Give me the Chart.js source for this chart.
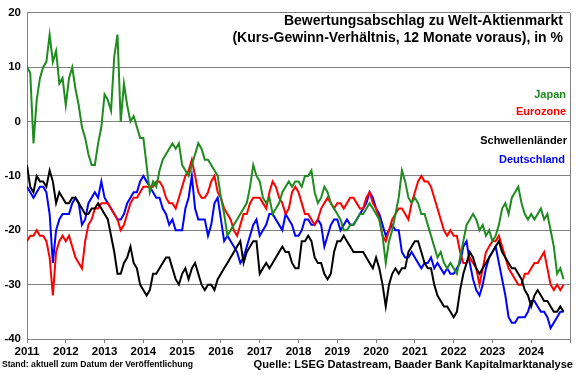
<!DOCTYPE html>
<html lang="de">
<head>
<meta charset="utf-8">
<title>Bewertungsabschlag zu Welt-Aktienmarkt</title>
<script src="https://cdn.jsdelivr.net/npm/chart.js@4.4.1/dist/chart.umd.min.js"></script>
<style>
    html, body { margin: 0; padding: 0; background: #ffffff; }
    #wrap { position: relative; width: 580px; height: 375px; }
</style>
</head>
<body>
<div id="wrap"><canvas id="kgvChart"></canvas></div>
<script>
// ==========================================
// DATA (monthly, Jan 2011 - Nov 2024)
// ==========================================

const START_YEAR = 2011;
const yearTicks = [2011, 2012, 2013, 2014, 2015, 2016, 2017, 2018, 2019, 2020, 2021, 2022, 2023, 2024];

const japan = [
    10, 9, -4, 4, 8, 10, 11, 16, 11, 13, 7, 8,
    3, 8, 10, 6, 3, -1, -3, -6, -8, -8, -4, -1,
    5, 4, 2, 12, 16, 0, 7, 3, 0, 1, -1, -3,
    -3, -8, -13, -11, -12, -9, -7, -6, -5, -4, -5, -4,
    -8, -9, -10, -8, -6, -4, -5, -7, -7, -8, -9, -10,
    -14, -17, -21, -20, -19, -18, -17, -16, -15, -12, -8, -10,
    -11, -14, -15, -14, -17, -16, -15, -13, -12, -11, -12, -11,
    -11, -12, -10, -10, -9, -13, -15, -14, -12, -13, -15, -16,
    -17, -18, -20, -20, -19, -19, -18, -17, -17, -16, -15, -16,
    -17, -18, -21, -26, -22, -20, -17, -14, -9, -11, -14, -15,
    -14, -15, -17, -17, -19, -21, -23, -25, -24, -26, -27, -26,
    -27, -28, -25, -22, -19, -18, -17, -18, -20, -19, -21, -20,
    -22, -21, -19, -16, -15, -17, -14, -13, -12, -15, -17, -18,
    -17, -18, -17, -16, -18, -17, -20, -23, -28, -27, -29
];

const eurozone = [
    -22, -21, -21, -20, -21, -21, -22, -25, -32, -24, -22, -21,
    -22, -21, -23, -25, -26, -27, -22, -19, -18, -16, -16, -15,
    -15, -15, -16, -17, -18, -20, -19, -17, -15, -14, -14, -13,
    -12, -12, -12, -12, -11, -11, -12, -14, -15, -15, -16, -14,
    -12, -10, -9, -7, -10, -13, -14, -14, -13, -11, -10, -13,
    -14, -16, -17, -18, -20, -21, -19, -17, -17, -15, -14, -14,
    -14, -15, -16, -13, -11, -12, -14, -15, -17, -16, -13, -12,
    -13, -15, -17, -17, -18, -19, -18, -16, -15, -14, -15, -16,
    -15, -15, -16, -15, -14, -14, -15, -16, -16, -14, -13, -15,
    -16, -18, -21, -22, -20, -18, -17, -16, -16, -17, -18, -15,
    -13, -11, -10, -11, -11, -12, -14, -16, -18, -20, -21, -20,
    -21, -21, -24, -26, -26, -25, -26, -27, -30, -27, -24, -23,
    -22, -22, -21, -23, -25, -27, -28, -29, -30, -30, -28, -28,
    -27, -26, -26, -25, -24, -27, -30, -31, -30, -31, -30
];

const schwellenlaender = [
    -8, -12, -13, -10, -11, -11, -12, -9, -11, -15, -13, -14,
    -15, -15, -14, -14, -15, -16, -17, -17, -16, -16, -15, -16,
    -17, -18, -21, -24, -28, -28, -26, -25, -23, -26, -27, -30,
    -31, -32, -31, -28, -28, -27, -26, -25, -25, -27, -29, -30,
    -28, -27, -29, -27, -26, -28, -30, -31, -30, -30, -31, -29,
    -28, -27, -26, -25, -24, -23, -22, -26, -24, -23, -22, -22,
    -28, -27, -26, -27, -26, -25, -24, -23, -24, -24, -26, -27,
    -27, -22, -22, -21, -22, -25, -26, -26, -28, -29, -28, -24,
    -22, -22, -21, -22, -23, -24, -24, -24, -24, -25, -26, -27,
    -25, -27, -30, -34, -30, -28, -27, -28, -27, -27, -24, -23,
    -22, -22, -24, -26, -27, -27, -30, -32, -33, -34, -34, -35,
    -36, -35, -31, -28, -26, -24, -25, -27, -28, -27, -26, -25,
    -24, -23, -22, -24, -25, -26, -27, -27, -28, -29, -31, -32,
    -34, -32, -31, -32, -33, -33, -34, -35, -35, -34, -35
];

const deutschland = [
    -12, -13, -14, -13, -12, -12, -13, -17, -26, -20, -18, -17,
    -17, -17, -15, -14, -15, -19, -18, -15, -14, -13, -14, -11,
    -14, -15, -16, -17, -18, -18, -17, -15, -14, -13, -13, -11,
    -10, -11, -12, -13, -14, -14, -16, -17, -19, -18, -20, -20,
    -20, -16, -14, -10, -16, -18, -18, -18, -21, -19, -15, -14,
    -18, -22, -21, -22, -23, -24, -26, -25, -23, -21, -19, -18,
    -21, -20, -19, -17, -17, -18, -19, -20, -17, -18, -19, -21,
    -21, -20, -18, -18, -19, -19, -18, -19, -23, -21, -19, -18,
    -18, -20, -19, -18, -19, -19, -18, -17, -16, -15, -13, -14,
    -16, -17, -19, -21, -20, -19, -20, -20, -24, -25, -25, -24,
    -25, -26, -27, -26, -26, -25, -27, -26, -27, -28, -27, -28,
    -28, -27, -26, -23, -22, -26, -29, -31, -32, -30, -27, -25,
    -24, -23, -26, -29, -32, -36, -37, -37, -36, -36, -36, -35,
    -33, -33, -34, -35, -35, -36, -38, -37, -36, -35, -35
];

// ==========================================
// HELPERS
// ==========================================

const FONT = 'Liberation Sans, Arial, sans-serif';

const toPoints = (arr) => arr.map((v, i) => ({ x: START_YEAR + i / 12, y: v }));

// Titles, series labels and footer notes drawn on top of the chart
const annotations = {
    id: 'annotations',
    afterDraw(chart) {
        const { ctx, chartArea: a } = chart;
        ctx.save();

        // right frame line
        ctx.strokeStyle = '#808080';
        ctx.lineWidth = 1;
        ctx.beginPath();
        ctx.moveTo(a.right + 0.5, a.top);
        ctx.lineTo(a.right + 0.5, a.bottom);
        ctx.stroke();

        ctx.textBaseline = 'alphabetic';

        // title
        ctx.textAlign = 'right';
        ctx.fillStyle = '#000000';
        ctx.font = `bold 14px ${FONT}`;
        ctx.fillText('Bewertungsabschlag zu Welt-Aktienmarkt', 563, 25);
        ctx.fillText('(Kurs-Gewinn-Verhältnis, 12 Monate voraus), in %', 563, 42);

        // series labels
        ctx.font = `bold 11px ${FONT}`;
        ctx.fillStyle = '#1e8c1e';
        ctx.fillText('Japan', 566, 98);
        ctx.fillStyle = '#ff0000';
        ctx.fillText('Eurozone', 566, 115);
        ctx.fillStyle = '#000000';
        ctx.fillText('Schwellenländer', 567, 144);
        ctx.fillStyle = '#0000ff';
        ctx.fillText('Deutschland', 565, 163);

        // footer
        ctx.fillStyle = '#000000';
        ctx.font = `bold 8.6px ${FONT}`;
        ctx.textAlign = 'left';
        ctx.fillText('Stand: aktuell zum Datum der Veröffentlichung', 2, 367);
        ctx.font = `bold 11.1px ${FONT}`;
        ctx.textAlign = 'right';
        ctx.fillText('Quelle: LSEG Datastream, Baader Bank Kapitalmarktanalyse', 573, 368);

        ctx.restore();
    }
};

// ==========================================
// CHART
// ==========================================

const lineStyle = (label, values, color, order) => ({
    label,
    data: toPoints(values),
    borderColor: color,
    backgroundColor: color,
    borderWidth: 2,
    pointRadius: 0,
    tension: 0,
    order
});

const ctx = document.getElementById('kgvChart').getContext('2d');

new Chart(ctx, {
    type: 'line',
    data: {
        datasets: [
            lineStyle('Japan', japan, '#1e8c1e', 0),
            lineStyle('Schwellenländer', schwellenlaender, '#000000', 1),
            lineStyle('Eurozone', eurozone, '#ff0000', 2),
            lineStyle('Deutschland', deutschland, '#0000ff', 3)
        ]
    },
    options: {
        responsive: true,
        maintainAspectRatio: false,
        devicePixelRatio: 1,
        animation: false,
        layout: {
            padding: { left: 0, right: 10, top: 10, bottom: 0 }
        },
        plugins: {
            legend: { display: false },
            tooltip: { enabled: false }
        },
        scales: {
            x: {
                type: 'linear',
                min: START_YEAR,
                max: 2025,
                afterFit: (scale) => { scale.height = 36; },
                afterBuildTicks: (scale) => {
                    scale.ticks = yearTicks.concat([2025]).map(v => ({ value: v }));
                },
                ticks: {
                    callback: (v) => yearTicks.includes(v) ? String(v) : '',
                    color: '#000000',
                    padding: 2,
                    maxRotation: 0,
                    autoSkip: false,
                    font: { family: FONT, size: 11.5, weight: 'bold' }
                },
                grid: {
                    drawOnChartArea: false,
                    drawTicks: true,
                    tickLength: 4,
                    color: '#808080'
                },
                border: { display: true, color: '#808080' }
            },
            y: {
                min: -40,
                max: 20,
                afterFit: (scale) => { scale.width = 27; },
                ticks: {
                    stepSize: 10,
                    color: '#000000',
                    padding: 6,
                    font: { family: FONT, size: 11.5, weight: 'bold' }
                },
                grid: {
                    color: '#808080',
                    lineWidth: 1,
                    drawTicks: false
                },
                border: { display: true, color: '#808080' }
            }
        }
    },
    plugins: [annotations]
});
</script>
</body>
</html>
